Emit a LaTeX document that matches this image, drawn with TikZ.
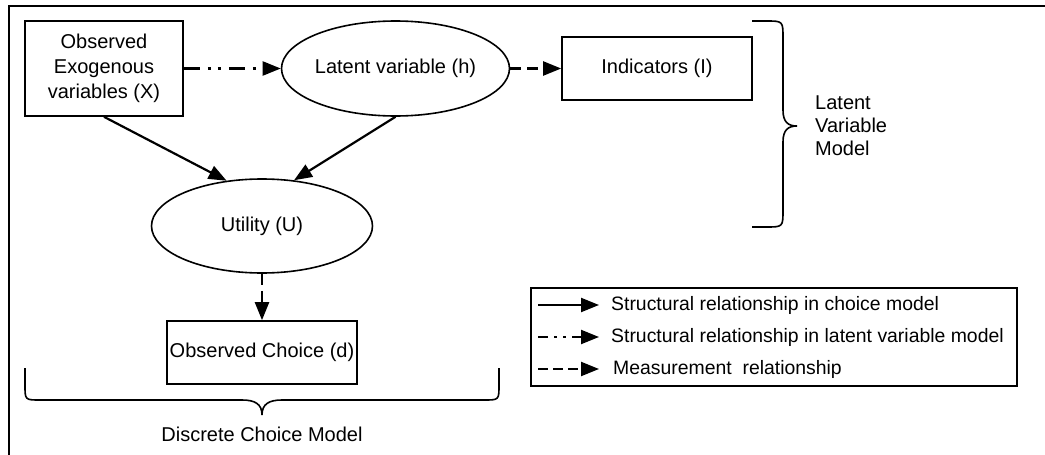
\documentclass[tikz,border=0pt]{standalone}
\usepackage{fontspec}
\setmainfont{Liberation Sans}
\usetikzlibrary{arrows.meta,shapes.geometric}
\begin{document}
\begin{tikzpicture}[x=1pt,y=-1pt,
  every node/.style={font=\fontsize{20}{25}\selectfont, inner sep=0pt, align=center},
  legtext/.style={anchor=west, font=\fontsize{19.4}{24}\selectfont},
  boxn/.style={draw, line width=1.6pt, rectangle},
  ellin/.style={draw, line width=1.6pt, ellipse},
  arr/.style={line width=2.2pt, -{Triangle[length=18pt,width=14pt]}},
  solidarr/.style={arr},
  measarr/.style={arr, dash pattern=on 11pt off 6pt},
  latarr/.style={arr, dash pattern=on 16pt off 8pt on 3pt off 7pt on 3pt off 8pt},
  bracep/.style={line width=1.6pt}
]
\useasboundingbox (0,0) rectangle (1045,455);
\clip (0,0) rectangle (1045,455);
\draw[line width=1.5pt] (9,6) rectangle (1050,460);

\node[boxn, minimum width=158pt, minimum height=95pt] (X) at (104,68.5) {Observed\\Exogenous\\variables (X)};
\node[ellin, minimum width=205pt, minimum height=95pt] (H) at (395.5,68.5) {Latent variable (h)};
\node[boxn, minimum width=190pt, minimum height=63pt] (I) at (657,68.5) {Indicators (I)};
\node[ellin, minimum width=221pt, minimum height=94pt] (U) at (262,226) {Utility (U)};
\node[boxn, minimum width=190pt, minimum height=63pt] (D) at (262,352.5) {Observed Choice (d)};

\draw[latarr] (X.east) -- (H.west);
\draw[measarr] (H.east) -- (I.west);
\draw[solidarr] (X.south) -- (U.128);
\draw[solidarr] (H.south) -- (U.55);
\draw[measarr] (U.south) -- (D.north);

% right brace
\coordinate (rbt) at (752,21);
\coordinate (rbb) at (752,227);
\coordinate (rbtip) at (797,126);
\draw[bracep] (rbt) -- (766,21) .. controls (783,21) .. (783,38) -- (783,110)
  .. controls (783,122) and (788,126) .. (rbtip)
  .. controls (788,126) and (783,130) .. (783,142) -- (783,210)
  .. controls (783,227) .. (766,227) -- (rbb);
\node[align=left, anchor=west, font=\fontsize{20}{23}\selectfont] (LVM) at (815,126) {Latent\\Variable\\Model};

% bottom brace
\coordinate (bbl) at (25,368);
\coordinate (bbr) at (499,368);
\coordinate (bbtip) at (262,415);
\draw[bracep] (bbl) -- (25,385) .. controls (25,400) .. (40,400) -- (242,400)
  .. controls (255,400) and (262,404) .. (bbtip)
  .. controls (262,404) and (269,400) .. (282,400) -- (484,400)
  .. controls (499,400) .. (499,385) -- (bbr);
\node (DCM) at (262,434) {Discrete Choice Model};

% legend
\node[draw, line width=1.6pt, minimum width=486pt, minimum height=98pt] (leg) at (774,337) {};
\coordinate (l1a) at (538,305); \coordinate (l1b) at (599,305);
\coordinate (l2a) at (538,337); \coordinate (l2b) at (599,337);
\coordinate (l3a) at (538,369); \coordinate (l3b) at (599,369);
\draw[solidarr] (l1a) -- (l1b);
\draw[arr, dash pattern=on 10pt off 6pt on 3pt off 6pt on 3pt off 6pt] (l2a) -- (l2b);
\draw[arr, dash pattern=on 10pt off 5pt] (l3a) -- (l3b);
\node[legtext] (t1) at (611,305) {Structural relationship in choice model};
\node[legtext] (t2) at (611,337) {Structural relationship in latent variable model};
\node[legtext] (t3) at (613,369) {Measurement\ \ relationship};
\end{tikzpicture}
\end{document}
